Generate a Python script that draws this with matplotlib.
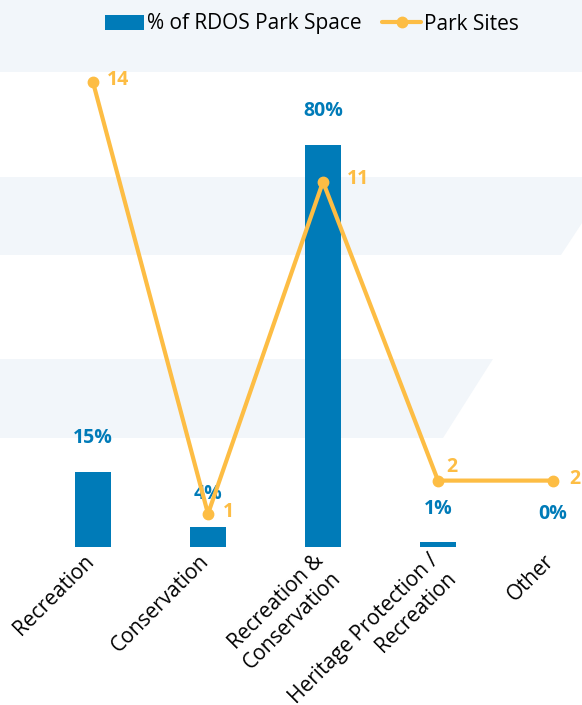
import matplotlib
matplotlib.use("Agg")
import matplotlib.pyplot as plt
from matplotlib.patches import Polygon
from matplotlib.transforms import ScaledTranslation
import numpy as np

# data
categories = ["Recreation", "Conservation", "Recreation &\nConservation",
              "Heritage Protection /\nRecreation", "Other"]
pct_space = [15, 4, 80, 1, 0]
pct_labels = ["15%", "4%", "80%", "1%", "0%"]
park_sites = [14, 1, 11, 2, 2]

BLUE = "#007BB8"
ORANGE = "#FDBD44"
BAND = "#F2F6FA"

plt.rcParams['font.family'] = ['Open Sans', 'DejaVu Sans']

W, H = 582, 705
fig = plt.figure(figsize=(W / 100, H / 100), dpi=100)

# light background bands (pixel coordinates, y down)
bg = fig.add_axes([0, 0, 1, 1], zorder=0)
bg.set_xlim(0, W)
bg.set_ylim(H, 0)
bg.axis('off')
bands = [
    [(0, 0), (W, 0), (W, 72), (0, 72)],
    [(0, 177), (W, 177), (W, 223), (561, 255), (0, 255)],
    [(0, 359), (493, 359), (443, 438), (0, 438)],
]
for pts in bands:
    bg.add_patch(Polygon(pts, closed=True, facecolor=BAND, edgecolor='none'))

# main axes: baseline at y=547px, top at y=44px
ax = fig.add_axes([0, (H - 547) / H, 1, 503 / H], zorder=1)
ax.patch.set_alpha(0)
x = np.arange(len(categories))
ax.bar(x, pct_space, width=0.31, color=BLUE, label="% of RDOS Park Space", zorder=2)
ax.set_xlim(-93 / 115, (W - 93) / 115)
ax.set_ylim(0, 100)
ax.set_yticks([])
for s in ax.spines.values():
    s.set_visible(False)
ax.set_xticks(x)
ax.set_xticklabels(categories, rotation=45, ha='right', va='top',
                   rotation_mode='anchor', fontsize=15, color='black')
ax.tick_params(axis='x', length=0, pad=2.5)
shift = ScaledTranslation(-0.1, 0, fig.dpi_scale_trans)
for t in ax.get_xticklabels():
    t.set_transform(t.get_transform() + shift)

for xi, v, lbl in zip(x, pct_space, pct_labels):
    ax.annotate(lbl, (xi, v), xytext=(0, 24), textcoords='offset points',
                ha='center', va='center', color=BLUE, fontweight='bold',
                fontsize=14, zorder=5)

ax2 = ax.twinx()
ax2.plot(x, park_sites, color=ORANGE, lw=3, marker='o', ms=7.5,
         label='Park Sites', zorder=3, solid_capstyle='round')
ax2.set_ylim(0, 503 / 33.2)
ax2.set_yticks([])
for s in ax2.spines.values():
    s.set_visible(False)

offsets = [(10, 1.5), (11, 1.5), (17, 2), (6, 10), (12, 1)]
for xi, v, off in zip(x, park_sites, offsets):
    ax2.annotate(str(v), (xi, v), xytext=off, textcoords='offset points',
                 ha='left', va='center', color=ORANGE, fontweight='bold',
                 fontsize=14)

h1, l1 = ax.get_legend_handles_labels()
h2, l2 = ax2.get_legend_handles_labels()
fig.legend(h1 + h2, l1 + l2, loc='center', bbox_to_anchor=(312 / W, 1 - 24 / H),
           ncol=2, frameon=False, fontsize=15, handlelength=1.85,
           handletextpad=0.15, columnspacing=1.0)

fig.savefig("out.png", dpi=100)
